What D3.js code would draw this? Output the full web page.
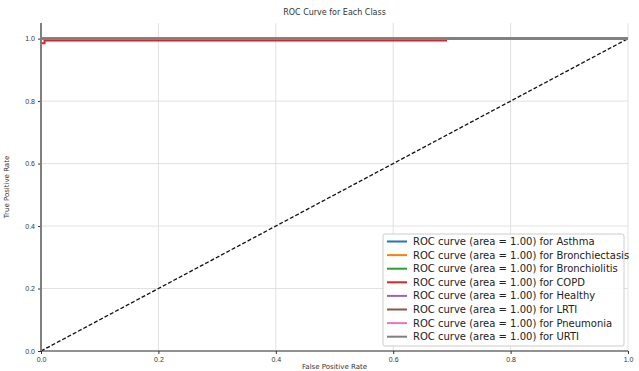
<!DOCTYPE html>
<html><head><meta charset="utf-8">
<script src="https://cdn.jsdelivr.net/npm/d3@7"></script>
<style>body{margin:0;background:#fff}svg{display:block;font-family:"DejaVu Sans",sans-serif}</style>
</head><body>
<svg id="c" width="639" height="371"></svg>
<script>
const classes = ["Asthma","Bronchiectasis","Bronchiolitis","COPD","Healthy","LRTI","Pneumonia","URTI"];
const aucs = [1.00,1.00,1.00,1.00,1.00,1.00,1.00,1.00];
const colors = ["#1f77b4","#ff7f0e","#2ca02c","#d62728","#9467bd","#8c564b","#e377c2","#7f7f7f"];
const fprs = [
  [0,0,1],[0,0,1],[0,0,1],
  [0,0,0.006,0.006,0.69,0.69,1],
  [0,0,1],[0,0,1],[0,0,1],[0,0,1]
];
const tprs = [
  [0,1,1],[0,1,1],[0,1,1],
  [0,0.985,0.985,0.994,0.994,1,1],
  [0,1,1],[0,1,1],[0,1,1],[0,1,1]
];
const ticks = [0,0.2,0.4,0.6,0.8,1.0];

const svg = d3.select("#c");
const L=41,R=628,T=23,B=351;
const x = d3.scaleLinear().domain([0,1]).range([L,R]);
const y = d3.scaleLinear().domain([0,1.05]).range([B,T]);

// grid
svg.append("g").selectAll("line.gx").data(ticks).join("line")
  .attr("x1",d=>x(d)).attr("x2",d=>x(d)).attr("y1",T).attr("y2",B)
  .attr("stroke","#d9d9d9").attr("stroke-width",0.8);
svg.append("g").selectAll("line.gy").data(ticks).join("line")
  .attr("x1",L).attr("x2",R).attr("y1",d=>y(d)).attr("y2",d=>y(d))
  .attr("stroke","#d9d9d9").attr("stroke-width",0.8);

// axes
const xa = svg.append("g").attr("transform",`translate(0,${B})`)
  .call(d3.axisBottom(x).tickValues(ticks).tickFormat(d3.format(".1f")).tickSize(3).tickPadding(3));
const ya = svg.append("g").attr("transform",`translate(${L},0)`)
  .call(d3.axisLeft(y).tickValues(ticks).tickFormat(d3.format(".1f")).tickSize(3).tickPadding(3));
[xa,ya].forEach(a=>{
  a.select(".domain").attr("stroke","#333").attr("stroke-width",1.2);
  a.selectAll(".tick line").attr("stroke","#333");
  a.selectAll("text").attr("font-size",7).attr("fill","#333");
});
xa.select(".domain").attr("d",`M${L},0H${R}`);
ya.select(".domain").attr("d",`M0,${B}V${T}`);

// diagonal
svg.append("line").attr("x1",x(0)).attr("y1",y(0)).attr("x2",x(1)).attr("y2",y(1))
  .attr("stroke","#111").attr("stroke-width",1.3).attr("stroke-dasharray","4,2");

// curves
const line = d3.line().x(d=>x(d[0])).y(d=>y(d[1]));
classes.forEach((c,i)=>{
  const pts = fprs[i].map((f,j)=>[f,tprs[i][j]]);
  svg.append("path").attr("d",line(pts)).attr("fill","none")
    .attr("stroke",colors[i]).attr("stroke-width",2);
});

// title & labels
svg.append("text").attr("x",(L+R)/2).attr("y",15).attr("text-anchor","middle")
  .attr("font-size",8).attr("fill","#333").text("ROC Curve for Each Class");
svg.append("text").attr("x",(L+R)/2).attr("y",369).attr("text-anchor","middle")
  .attr("font-size",7).attr("fill","#333").text("False Positive Rate");
svg.append("text").attr("transform",`translate(9,${(T+B)/2}) rotate(-90)`).attr("text-anchor","middle")
  .attr("font-size",7).attr("fill","#333").text("True Positive Rate");

// legend
const lg = svg.append("g");
lg.append("rect").attr("x",383).attr("y",234).attr("width",241).attr("height",112)
  .attr("fill","#fff").attr("fill-opacity",0.85).attr("stroke","#ccc").attr("rx",2);
classes.forEach((c,i)=>{
  const yy = 241.5 + i*13.6;
  lg.append("line").attr("x1",387).attr("x2",407).attr("y1",yy).attr("y2",yy)
    .attr("stroke",colors[i]).attr("stroke-width",2);
  lg.append("text").attr("x",413).attr("y",yy).attr("dy","0.35em").attr("font-size",10)
    .attr("fill","#222").text(`ROC curve (area = ${aucs[i].toFixed(2)}) for ${c}`);
});
</script>
</body></html>
